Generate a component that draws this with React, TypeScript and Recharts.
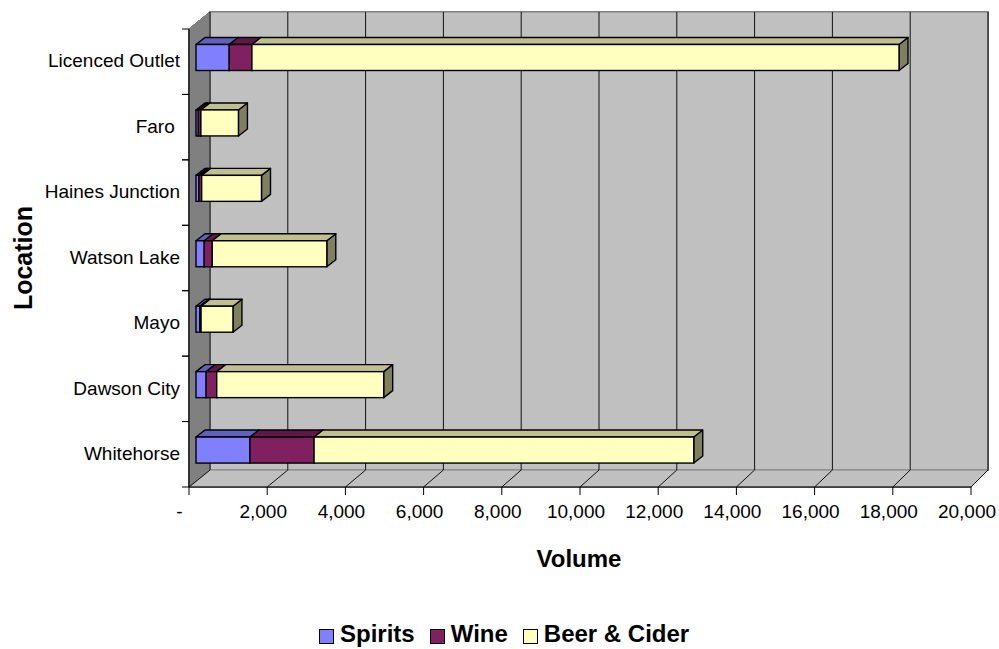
import React from 'react';
import { BarChart, Bar, XAxis, YAxis, CartesianGrid, Legend } from 'recharts';

// ---------- data ----------
const locations = ['Whitehorse', 'Dawson City', 'Mayo', 'Watson Lake', 'Haines Junction', 'Faro ', 'Licenced Outlet'];
const spiritsVolume = [1380, 260, 95, 210, 75, 60, 850];
const wineVolume = [1640, 270, 35, 205, 70, 65, 580];
const beerCiderVolume = [9710, 4270, 815, 2930, 1530, 960, 16550];
const volumeTicks = [0, 2000, 4000, 6000, 8000, 10000, 12000, 14000, 16000, 18000, 20000];
const seriesNames = ['Spirits', 'Wine', 'Beer & Cider'];
const xAxisTitle = 'Volume';
const yAxisTitle = 'Location';

const data = locations.map((loc, i) => ({
  location: loc,
  spirits: spiritsVolume[i],
  wine: wineVolume[i],
  beer: beerCiderVolume[i],
}));

// ---------- layout / style ----------
const FONT = '"Liberation Sans", Arial, Helvetica, sans-serif';
const CHART_W = 999;
const CHART_H = 649;
const MARGIN = { top: 29, right: 28, bottom: 0, left: 0 };
const Y_AXIS_W = 189;
const X_AXIS_H = 126;
const LEGEND_H = 36;
const DEPTH_X = 21;
const DEPTH_Y = 17;
const BACK_RIGHT_X = 988;
const PLOT_LEFT = MARGIN.left + Y_AXIS_W;
const PLOT_RIGHT = CHART_W - MARGIN.right;
const PLOT_TOP = MARGIN.top;
const PLOT_BOTTOM = CHART_H - MARGIN.bottom - LEGEND_H - X_AXIS_H;
const BAR_SHIFT_X = 7;
const BAR_SHIFT_Y = 4.5;
const BAR_DEPTH_X = 9;
const BAR_DEPTH_Y = 7;

const COLORS = {
  spirits: { front: '#8080FF', top: '#6060BF', side: '#404080' },
  wine: { front: '#802060', top: '#601848', side: '#401030' },
  beer: { front: '#FFFFC0', top: '#BFBF90', side: '#808060' },
};

const backX = (x: number) =>
  PLOT_LEFT + DEPTH_X + ((x - PLOT_LEFT) * (BACK_RIGHT_X - PLOT_LEFT - DEPTH_X)) / (PLOT_RIGHT - PLOT_LEFT);

const pts = (arr: number[][]) => arr.map((p) => p.join(',')).join(' ');

// walls (drawn beneath everything, through grid's horizontal renderer)
const WallsLine = (p: any) => {
  const bl = PLOT_LEFT + DEPTH_X;
  const bt = PLOT_TOP - DEPTH_Y;
  const bb = PLOT_BOTTOM - DEPTH_Y;
  return (
    <g key={`wall-${p.y1}`}>
      <rect x={bl} y={bt} width={BACK_RIGHT_X - bl} height={bb - bt} fill="#C0C0C0" stroke="#808080" strokeWidth={1} />
      <polygon
        points={pts([[PLOT_LEFT, PLOT_TOP], [bl, bt], [bl, bb], [PLOT_LEFT, PLOT_BOTTOM]])}
        fill="#808080"
        stroke="#808080"
      />
      <polygon
        points={pts([[PLOT_LEFT, PLOT_BOTTOM], [PLOT_RIGHT, PLOT_BOTTOM], [BACK_RIGHT_X, bb], [bl, bb]])}
        fill="#C0C0C0"
        stroke="#808080"
      />
    </g>
  );
};

const GridLine = (p: any) => {
  const bx = backX(p.x1);
  const top = Math.min(p.y1, p.y2);
  const bottom = Math.max(p.y1, p.y2);
  return (
    <g key={`grid-${p.x1}`}>
      <line x1={bx} y1={top - DEPTH_Y} x2={bx} y2={bottom - DEPTH_Y} stroke="#111" strokeWidth={1} />
      <line x1={p.x1} y1={bottom} x2={bx} y2={bottom - DEPTH_Y} stroke="#111" strokeWidth={1} />
    </g>
  );
};

const makeBox = (c: { front: string; top: string; side: string }) => (props: any) => {
  const { x, y, width, height } = props;
  if (!width || width <= 0 || !height) return <g />;
  const fx = x + BAR_SHIFT_X;
  const fy = y - BAR_SHIFT_Y;
  const dx = BAR_DEPTH_X;
  const dy = BAR_DEPTH_Y;
  const sw = 1.4;
  return (
    <g>
      <polygon
        points={pts([[fx + width, fy], [fx + width + dx, fy - dy], [fx + width + dx, fy - dy + height], [fx + width, fy + height]])}
        fill={c.side}
        stroke="#000"
        strokeWidth={sw}
        strokeLinejoin="round"
      />
      <polygon
        points={pts([[fx, fy], [fx + width, fy], [fx + width + dx, fy - dy], [fx + dx, fy - dy]])}
        fill={c.top}
        stroke="#000"
        strokeWidth={sw}
        strokeLinejoin="round"
      />
      <rect x={fx} y={fy} width={width} height={height} fill={c.front} stroke="#000" strokeWidth={sw} />
    </g>
  );
};

const YTick = (props: any) => {
  const { x, y, payload } = props;
  const half = (PLOT_BOTTOM - PLOT_TOP) / locations.length / 2;
  return (
    <g>
      <line x1={x + 2} x2={x + 9} y1={y - half} y2={y - half} stroke="#000" />
      <line x1={x + 2} x2={x + 9} y1={y + half} y2={y + half} stroke="#000" />
      <text
        x={x}
        y={y - 1}
        dy="0.35em"
        textAnchor="end"
        fontSize={19}
        fontFamily={FONT}
        fill="#000"
        style={{ whiteSpace: 'pre' }}
      >
        {payload.value}
      </text>
    </g>
  );
};

const XTick = (props: any) => {
  const { x, y, payload } = props;
  const v = payload.value;
  const label = v === 0 ? '-' : Number(v).toLocaleString('en-US');
  return (
    <text
      x={v === 0 ? x - 9.5 : x - 4}
      y={y}
      dy="0.71em"
      textAnchor="middle"
      fontSize={19}
      fontFamily={FONT}
      fill="#000"
    >
      {label}
    </text>
  );
};

const XLabel = (props: any) => {
  const vb = props.viewBox || { x: PLOT_LEFT, y: PLOT_BOTTOM, width: PLOT_RIGHT - PLOT_LEFT, height: X_AXIS_H };
  return (
    <text
      x={vb.x + vb.width / 2 - 1}
      y={vb.y + 80}
      textAnchor="middle"
      fontSize={24}
      fontWeight="bold"
      fontFamily={FONT}
      fill="#000"
    >
      {xAxisTitle}
    </text>
  );
};

const YLabel = (props: any) => {
  const vb = props.viewBox || { x: 0, y: PLOT_TOP, width: Y_AXIS_W, height: PLOT_BOTTOM - PLOT_TOP };
  const cx = vb.x + 32;
  const cy = vb.y + vb.height / 2;
  return (
    <text
      x={cx}
      y={cy}
      transform={`rotate(-90, ${cx}, ${cy})`}
      textAnchor="middle"
      fontSize={25}
      fontWeight="bold"
      fontFamily={FONT}
      fill="#000"
    >
      {yAxisTitle}
    </text>
  );
};

const LegendContent = (props: any) => {
  const raw = props.payload || [];
  const payload = [...raw].sort(
    (a: any, b: any) => seriesNames.indexOf(a.value) - seriesNames.indexOf(b.value)
  );
  return (
    <div
      style={{
        display: 'flex',
        alignItems: 'flex-start',
        height: LEGEND_H,
        boxSizing: 'border-box',
        paddingLeft: 319,
        paddingTop: 9,
        fontFamily: FONT,
        fontWeight: 'bold',
        fontSize: 24,
        lineHeight: '24px',
        color: '#000',
        margin: 0,
      }}
    >
      {payload.map((e: any, i: number) => (
        <div key={`leg-${i}`} style={{ display: 'flex', alignItems: 'flex-start', marginRight: 15 }}>
          <span
            style={{
              display: 'inline-block',
              width: 15,
              height: 15,
              boxSizing: 'border-box',
              border: '1px solid #000',
              background: e.color,
              marginTop: 7,
              marginRight: 6,
            }}
          />
          <span style={{ whiteSpace: 'pre' }}>{e.value}</span>
        </div>
      ))}
    </div>
  );
};

export default function App() {
  return (
    <div style={{ position: 'absolute', left: 0, top: 0, width: CHART_W, height: CHART_H, background: '#fff' }}>
      <BarChart
        width={CHART_W}
        height={CHART_H}
        data={data}
        layout="vertical"
        margin={MARGIN}
        style={{ fontFamily: FONT }}
      >
        <CartesianGrid horizontal={WallsLine} vertical={GridLine} />
        <XAxis
          type="number"
          domain={[0, 20000]}
          ticks={volumeTicks}
          interval={0}
          height={X_AXIS_H}
          tickSize={8}
          tickMargin={10}
          axisLine={{ stroke: '#000', strokeWidth: 1.2 }}
          tickLine={{ stroke: '#000' }}
          tick={<XTick />}
          allowDataOverflow
          label={{ content: XLabel }}
        />
        <YAxis
          type="category"
          dataKey="location"
          reversed
          width={Y_AXIS_W}
          interval={0}
          tickSize={7}
          tickMargin={2}
          tickLine={false}
          axisLine={{ stroke: '#000', strokeWidth: 1.2 }}
          tick={<YTick />}
          label={{ content: YLabel }}
        />
        <Legend
          verticalAlign="bottom"
          align="left"
          content={LegendContent}
          wrapperStyle={{ left: 0, width: CHART_W, bottom: 0 }}
        />
        <Bar
          dataKey="spirits"
          name={seriesNames[0]}
          stackId="s"
          fill={COLORS.spirits.front}
          barSize={26}
          isAnimationActive={false}
          shape={makeBox(COLORS.spirits)}
        />
        <Bar
          dataKey="wine"
          name={seriesNames[1]}
          stackId="s"
          fill={COLORS.wine.front}
          barSize={26}
          isAnimationActive={false}
          shape={makeBox(COLORS.wine)}
        />
        <Bar
          dataKey="beer"
          name={seriesNames[2]}
          stackId="s"
          fill={COLORS.beer.front}
          barSize={26}
          isAnimationActive={false}
          shape={makeBox(COLORS.beer)}
        />
      </BarChart>
    </div>
  );
}
